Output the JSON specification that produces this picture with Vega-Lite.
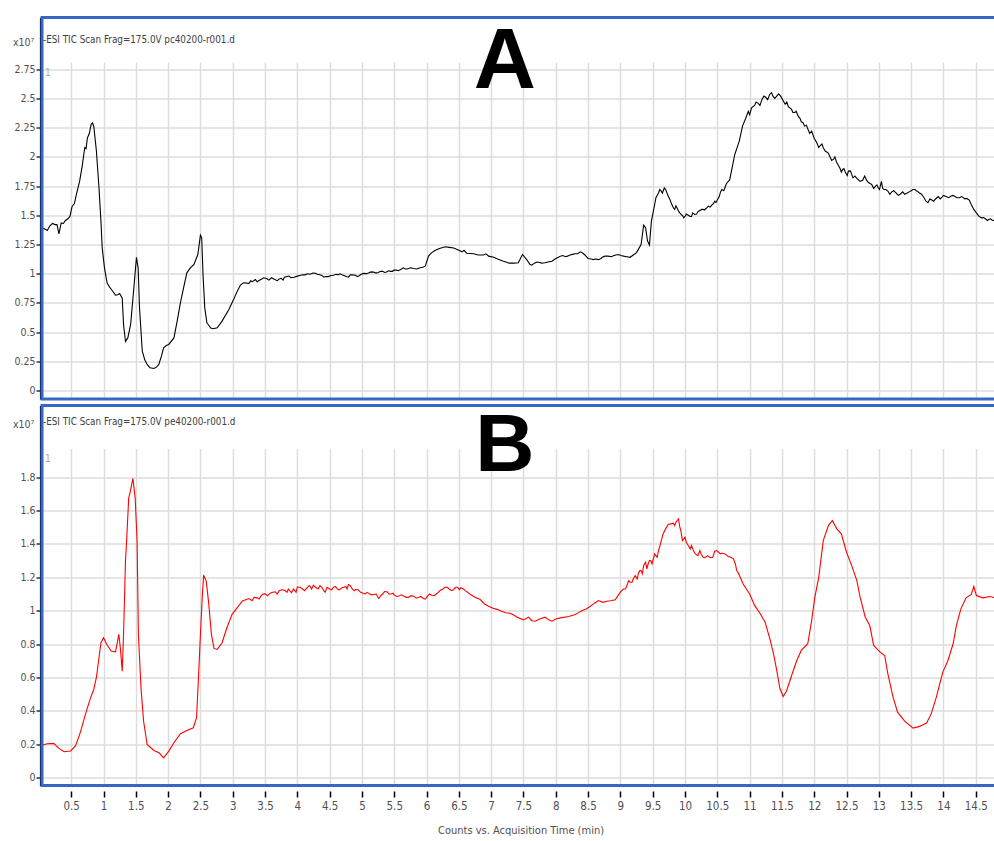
{
  "$schema": "https://vega.github.io/schema/vega-lite/v6.json",
  "autosize": {"type": "pad"},
  "padding": {"left": 12, "top": 15.5, "right": 0, "bottom": 0},
  "background": "white",
  "spacing": 6,
  "bounds": "flush",
  "config": {
    "view": {"stroke": null},
    "font": "DejaVu Sans Condensed, sans-serif",
    "axis": {
      "gridColor": "#dddddd",
      "gridWidth": 1.5,
      "labelColor": "#505050",
      "labelOverlap": false,
      "tickCount": 200,
      "labelFont": "DejaVu Sans Condensed, sans-serif",
      "titleFont": "DejaVu Sans Condensed, sans-serif",
      "titleFontWeight": "normal",
      "titleColor": "#505050"
    }
  },
  "datasets": {
    "a": [
      {"t":0.05,"v":1.39},{"t":0.1,"v":1.38},{"t":0.13,"v":1.37},{"t":0.17,"v":1.41},{"t":0.21,"v":1.43},{"t":0.25,"v":1.42},{"t":0.28,"v":1.42},{"t":0.31,"v":1.34},{"t":0.345,"v":1.435},{"t":0.38,"v":1.43},{"t":0.41,"v":1.455},{"t":0.45,"v":1.47},{"t":0.48,"v":1.49},{"t":0.515,"v":1.578},{"t":0.55,"v":1.6},{"t":0.58,"v":1.678},{"t":0.63,"v":1.79},{"t":0.67,"v":1.92},{"t":0.71,"v":2.08},{"t":0.73,"v":2.07},{"t":0.75,"v":2.16},{"t":0.78,"v":2.2},{"t":0.81,"v":2.28},{"t":0.83,"v":2.29},{"t":0.85,"v":2.26},{"t":0.89,"v":2.05},{"t":0.93,"v":1.735},{"t":0.96,"v":1.45},{"t":0.98,"v":1.22},{"t":1.015,"v":1.05},{"t":1.056,"v":0.92},{"t":1.1,"v":0.88},{"t":1.134,"v":0.856},{"t":1.186,"v":0.816},{"t":1.22,"v":0.82},{"t":1.25,"v":0.83},{"t":1.29,"v":0.79},{"t":1.31,"v":0.565},{"t":1.34,"v":0.42},{"t":1.376,"v":0.45},{"t":1.42,"v":0.565},{"t":1.47,"v":0.88},{"t":1.51,"v":1.14},{"t":1.536,"v":1.05},{"t":1.557,"v":0.71},{"t":1.6,"v":0.337},{"t":1.64,"v":0.26},{"t":1.675,"v":0.223},{"t":1.72,"v":0.195},{"t":1.78,"v":0.188},{"t":1.82,"v":0.2},{"t":1.856,"v":0.223},{"t":1.9,"v":0.3},{"t":1.93,"v":0.365},{"t":1.97,"v":0.385},{"t":2.01,"v":0.394},{"t":2.09,"v":0.45},{"t":2.14,"v":0.594},{"t":2.19,"v":0.75},{"t":2.24,"v":0.88},{"t":2.29,"v":1.007},{"t":2.345,"v":1.05},{"t":2.4,"v":1.079},{"t":2.46,"v":1.164},{"t":2.5,"v":1.33},{"t":2.52,"v":1.307},{"t":2.54,"v":0.994},{"t":2.567,"v":0.708},{"t":2.6,"v":0.58},{"t":2.62,"v":0.565},{"t":2.66,"v":0.535},{"t":2.696,"v":0.528},{"t":2.76,"v":0.537},{"t":2.835,"v":0.594},{"t":2.94,"v":0.694},{"t":3.015,"v":0.78},{"t":3.07,"v":0.85},{"t":3.12,"v":0.902},{"t":3.16,"v":0.92},{"t":3.195,"v":0.922},{"t":3.25,"v":0.915},{"t":3.3,"v":0.93},{"t":3.35,"v":0.95},{"t":3.4,"v":0.94},{"t":3.45,"v":0.955},{"t":3.53,"v":0.956},{"t":3.6,"v":0.965},{"t":3.65,"v":0.95},{"t":3.69,"v":0.94},{"t":3.75,"v":0.96},{"t":3.8,"v":0.97},{"t":3.84,"v":0.976},{"t":3.9,"v":0.965},{"t":4.0,"v":0.979},{"t":4.08,"v":0.99},{"t":4.15,"v":0.999},{"t":4.2,"v":0.995},{"t":4.28,"v":1.004},{"t":4.35,"v":0.99},{"t":4.41,"v":0.97},{"t":4.48,"v":0.975},{"t":4.56,"v":0.987},{"t":4.6,"v":0.995},{"t":4.66,"v":0.999},{"t":4.72,"v":0.985},{"t":4.79,"v":0.97},{"t":4.85,"v":0.99},{"t":4.9,"v":0.987},{"t":4.95,"v":0.98},{"t":5.03,"v":1.002},{"t":5.1,"v":1.005},{"t":5.18,"v":1.013},{"t":5.25,"v":1.01},{"t":5.32,"v":1.02},{"t":5.38,"v":1.015},{"t":5.44,"v":1.02},{"t":5.5,"v":1.03},{"t":5.56,"v":1.025},{"t":5.64,"v":1.05},{"t":5.7,"v":1.04},{"t":5.8,"v":1.044},{"t":5.9,"v":1.05},{"t":5.98,"v":1.064},{"t":6.03,"v":1.15},{"t":6.08,"v":1.18},{"t":6.13,"v":1.198},{"t":6.2,"v":1.215},{"t":6.29,"v":1.23},{"t":6.35,"v":1.225},{"t":6.42,"v":1.22},{"t":6.5,"v":1.2},{"t":6.55,"v":1.187},{"t":6.58,"v":1.2},{"t":6.62,"v":1.175},{"t":6.73,"v":1.17},{"t":6.8,"v":1.16},{"t":6.88,"v":1.16},{"t":6.92,"v":1.17},{"t":6.96,"v":1.15},{"t":7.04,"v":1.14},{"t":7.1,"v":1.125},{"t":7.19,"v":1.107},{"t":7.28,"v":1.09},{"t":7.35,"v":1.09},{"t":7.42,"v":1.093},{"t":7.485,"v":1.164},{"t":7.55,"v":1.12},{"t":7.63,"v":1.073},{"t":7.71,"v":1.1},{"t":7.78,"v":1.09},{"t":7.835,"v":1.093},{"t":7.94,"v":1.107},{"t":8.0,"v":1.13},{"t":8.07,"v":1.15},{"t":8.15,"v":1.145},{"t":8.22,"v":1.16},{"t":8.3,"v":1.17},{"t":8.38,"v":1.187},{"t":8.45,"v":1.16},{"t":8.5,"v":1.13},{"t":8.58,"v":1.12},{"t":8.66,"v":1.12},{"t":8.72,"v":1.14},{"t":8.81,"v":1.15},{"t":8.9,"v":1.155},{"t":8.97,"v":1.164},{"t":9.05,"v":1.15},{"t":9.15,"v":1.14},{"t":9.25,"v":1.18},{"t":9.32,"v":1.25},{"t":9.36,"v":1.415},{"t":9.39,"v":1.393},{"t":9.42,"v":1.28},{"t":9.45,"v":1.244},{"t":9.48,"v":1.45},{"t":9.53,"v":1.59},{"t":9.59,"v":1.69},{"t":9.63,"v":1.71},{"t":9.68,"v":1.735},{"t":9.74,"v":1.664},{"t":9.82,"v":1.564},{"t":9.86,"v":1.58},{"t":9.9,"v":1.535},{"t":9.95,"v":1.5},{"t":9.98,"v":1.478},{"t":10.05,"v":1.5},{"t":10.1,"v":1.49},{"t":10.15,"v":1.507},{"t":10.2,"v":1.53},{"t":10.26,"v":1.55},{"t":10.3,"v":1.545},{"t":10.36,"v":1.578},{"t":10.42,"v":1.59},{"t":10.46,"v":1.62},{"t":10.5,"v":1.63},{"t":10.57,"v":1.72},{"t":10.62,"v":1.74},{"t":10.67,"v":1.79},{"t":10.72,"v":1.88},{"t":10.77,"v":2.02},{"t":10.84,"v":2.135},{"t":10.89,"v":2.263},{"t":10.94,"v":2.33},{"t":10.98,"v":2.39},{"t":11.03,"v":2.42},{"t":11.08,"v":2.443},{"t":11.13,"v":2.46},{"t":11.19,"v":2.49},{"t":11.25,"v":2.51},{"t":11.31,"v":2.534},{"t":11.36,"v":2.52},{"t":11.42,"v":2.52},{"t":11.48,"v":2.52},{"t":11.55,"v":2.45},{"t":11.6,"v":2.43},{"t":11.65,"v":2.406},{"t":11.7,"v":2.38},{"t":11.75,"v":2.35},{"t":11.8,"v":2.3},{"t":11.85,"v":2.263},{"t":11.9,"v":2.24},{"t":11.96,"v":2.22},{"t":12.04,"v":2.12},{"t":12.1,"v":2.1},{"t":12.14,"v":2.078},{"t":12.2,"v":2.04},{"t":12.24,"v":2.006},{"t":12.3,"v":1.98},{"t":12.34,"v":1.963},{"t":12.4,"v":1.9},{"t":12.44,"v":1.892},{"t":12.48,"v":1.87},{"t":12.53,"v":1.878},{"t":12.58,"v":1.85},{"t":12.63,"v":1.835},{"t":12.71,"v":1.79},{"t":12.78,"v":1.835},{"t":12.84,"v":1.78},{"t":12.89,"v":1.764},{"t":12.95,"v":1.75},{"t":12.99,"v":1.735},{"t":13.04,"v":1.79},{"t":13.08,"v":1.72},{"t":13.14,"v":1.707},{"t":13.2,"v":1.7},{"t":13.27,"v":1.69},{"t":13.33,"v":1.68},{"t":13.4,"v":1.68},{"t":13.47,"v":1.7},{"t":13.53,"v":1.72},{"t":13.58,"v":1.71},{"t":13.63,"v":1.69},{"t":13.7,"v":1.65},{"t":13.76,"v":1.607},{"t":13.82,"v":1.63},{"t":13.87,"v":1.635},{"t":13.92,"v":1.66},{"t":13.97,"v":1.65},{"t":14.04,"v":1.66},{"t":14.12,"v":1.664},{"t":14.18,"v":1.66},{"t":14.25,"v":1.65},{"t":14.3,"v":1.655},{"t":14.36,"v":1.644},{"t":14.43,"v":1.592},{"t":14.51,"v":1.52},{"t":14.59,"v":1.478},{"t":14.65,"v":1.47},{"t":14.7,"v":1.464},{"t":14.75,"v":1.46},{"t":14.86,"v":1.455},
      {"t":3.28,"v":0.94},{"t":3.38,"v":0.93},{"t":3.48,"v":0.965},{"t":3.56,"v":0.945},{"t":3.72,"v":0.955},{"t":3.78,"v":0.945},{"t":3.87,"v":0.98},{"t":3.95,"v":0.97},{"t":4.04,"v":0.985},{"t":4.12,"v":0.99},{"t":4.24,"v":1.005},{"t":4.31,"v":0.995},{"t":4.38,"v":0.985},{"t":4.44,"v":0.975},{"t":4.52,"v":0.985},{"t":4.63,"v":0.99},{"t":4.69,"v":0.99},{"t":4.76,"v":0.975},{"t":4.82,"v":0.99},{"t":4.93,"v":0.975},{"t":4.99,"v":0.995},{"t":5.07,"v":1.0},{"t":5.14,"v":1.015},{"t":5.22,"v":1.005},{"t":5.29,"v":1.02},{"t":5.35,"v":1.01},{"t":5.41,"v":1.025},{"t":5.47,"v":1.02},{"t":5.53,"v":1.03},{"t":5.6,"v":1.035},{"t":5.67,"v":1.04},{"t":5.75,"v":1.05},{"t":5.85,"v":1.04},{"t":5.94,"v":1.055},
      {"t":7.23,"v":1.1},{"t":7.6,"v":1.08},{"t":7.67,"v":1.09},{"t":7.75,"v":1.095},{"t":7.88,"v":1.1},{"t":8.04,"v":1.14},{"t":8.11,"v":1.155},{"t":8.18,"v":1.15},{"t":8.26,"v":1.165},{"t":8.34,"v":1.17},{"t":8.42,"v":1.175},{"t":8.55,"v":1.125},{"t":8.62,"v":1.125},{"t":8.7,"v":1.13},{"t":8.76,"v":1.15},{"t":8.86,"v":1.145},{"t":8.93,"v":1.16},{"t":9.01,"v":1.155},{"t":9.1,"v":1.145},{"t":9.2,"v":1.16},
      {"t":9.55,"v":1.65},{"t":9.61,"v":1.72},{"t":9.65,"v":1.69},{"t":9.7,"v":1.72},{"t":9.77,"v":1.63},{"t":9.79,"v":1.6},{"t":9.84,"v":1.55},{"t":9.88,"v":1.56},{"t":9.92,"v":1.52},{"t":9.96,"v":1.5},{"t":10.0,"v":1.49},{"t":10.02,"v":1.51},{"t":10.08,"v":1.49},{"t":10.12,"v":1.52},{"t":10.18,"v":1.51},{"t":10.23,"v":1.54},{"t":10.28,"v":1.55},{"t":10.33,"v":1.56},{"t":10.39,"v":1.57},{"t":10.44,"v":1.6},{"t":10.48,"v":1.61},{"t":10.53,"v":1.66},{"t":10.55,"v":1.7},{"t":10.6,"v":1.71},{"t":10.64,"v":1.77},{"t":10.69,"v":1.8},
      {"t":11.0,"v":2.36},{"t":11.1,"v":2.47},{"t":11.16,"v":2.44},{"t":11.22,"v":2.52},{"t":11.28,"v":2.49},{"t":11.34,"v":2.55},{"t":11.39,"v":2.5},{"t":11.45,"v":2.54},{"t":11.52,"v":2.48},{"t":11.575,"v":2.47},{"t":11.67,"v":2.38},{"t":11.72,"v":2.39},{"t":11.78,"v":2.33},{"t":11.83,"v":2.29},{"t":11.88,"v":2.27},{"t":11.93,"v":2.2},{"t":12.0,"v":2.16},{"t":12.07,"v":2.08},{"t":12.12,"v":2.11},{"t":12.17,"v":2.05},{"t":12.22,"v":2.03},{"t":12.27,"v":1.97},{"t":12.32,"v":2.0},{"t":12.37,"v":1.93},{"t":12.42,"v":1.87},{"t":12.46,"v":1.9},{"t":12.51,"v":1.84},{"t":12.56,"v":1.88},{"t":12.6,"v":1.82},{"t":12.67,"v":1.81},{"t":12.75,"v":1.8},{"t":12.81,"v":1.8},{"t":12.87,"v":1.77},{"t":12.92,"v":1.73},{"t":12.97,"v":1.76},{"t":13.01,"v":1.72},{"t":13.06,"v":1.73},{"t":13.11,"v":1.72},{"t":13.17,"v":1.68},{"t":13.23,"v":1.71},{"t":13.3,"v":1.67},{"t":13.37,"v":1.7},{"t":13.44,"v":1.69},{"t":13.5,"v":1.71},{"t":13.56,"v":1.72},{"t":13.61,"v":1.7},{"t":13.66,"v":1.68},{"t":13.73,"v":1.62},{"t":13.79,"v":1.64},{"t":13.85,"v":1.62},{"t":13.9,"v":1.65},{"t":13.95,"v":1.64},{"t":14.0,"v":1.67},{"t":14.08,"v":1.65},{"t":14.15,"v":1.67},{"t":14.21,"v":1.65},{"t":14.28,"v":1.66},{"t":14.33,"v":1.64},{"t":14.4,"v":1.63},{"t":14.47,"v":1.55},{"t":14.55,"v":1.49},{"t":14.62,"v":1.48},{"t":14.68,"v":1.455},{"t":14.73,"v":1.47},{"t":14.8,"v":1.45}
    ],
    "b": [
      {"t":0.05,"v":0.195},{"t":0.13,"v":0.203},{"t":0.23,"v":0.205},{"t":0.31,"v":0.175},{"t":0.39,"v":0.155},{"t":0.49,"v":0.16},{"t":0.567,"v":0.19},{"t":0.64,"v":0.27},{"t":0.72,"v":0.379},{"t":0.8,"v":0.479},{"t":0.85,"v":0.529},{"t":0.89,"v":0.6},{"t":0.93,"v":0.718},{"t":0.96,"v":0.808},{"t":1.0,"v":0.838},{"t":1.056,"v":0.794},{"t":1.118,"v":0.758},{"t":1.186,"v":0.754},{"t":1.237,"v":0.858},{"t":1.26,"v":0.778},{"t":1.29,"v":0.638},{"t":1.31,"v":0.858},{"t":1.34,"v":1.297},{"t":1.36,"v":1.437},{"t":1.39,"v":1.676},{"t":1.41,"v":1.706},{"t":1.455,"v":1.792},{"t":1.49,"v":1.676},{"t":1.52,"v":1.417},{"t":1.54,"v":0.858},{"t":1.58,"v":0.539},{"t":1.62,"v":0.339},{"t":1.675,"v":0.199},{"t":1.78,"v":0.163},{"t":1.86,"v":0.149},{"t":1.93,"v":0.119},{"t":2.01,"v":0.159},{"t":2.09,"v":0.209},{"t":2.19,"v":0.263},{"t":2.29,"v":0.283},{"t":2.39,"v":0.299},{"t":2.44,"v":0.359},{"t":2.47,"v":0.6},{"t":2.5,"v":0.858},{"t":2.53,"v":1.097},{"t":2.55,"v":1.213},{"t":2.59,"v":1.177},{"t":2.63,"v":1.038},{"t":2.67,"v":0.858},{"t":2.71,"v":0.774},{"t":2.76,"v":0.768},{"t":2.835,"v":0.808},{"t":2.91,"v":0.898},{"t":2.99,"v":0.978},{"t":3.07,"v":1.018},{"t":3.15,"v":1.058},{"t":3.25,"v":1.073},{"t":3.3,"v":1.06},{"t":3.38,"v":1.077},{"t":3.44,"v":1.09},{"t":3.5,"v":1.101},{"t":3.58,"v":1.105},{"t":3.66,"v":1.113},{"t":3.72,"v":1.12},{"t":3.81,"v":1.121},{"t":3.86,"v":1.13},{"t":3.91,"v":1.107},{"t":3.96,"v":1.12},{"t":4.0,"v":1.141},{"t":4.08,"v":1.13},{"t":4.15,"v":1.137},{"t":4.2,"v":1.145},{"t":4.25,"v":1.153},{"t":4.32,"v":1.13},{"t":4.38,"v":1.14},{"t":4.43,"v":1.111},{"t":4.5,"v":1.13},{"t":4.56,"v":1.141},{"t":4.62,"v":1.13},{"t":4.69,"v":1.137},{"t":4.75,"v":1.145},{"t":4.79,"v":1.157},{"t":4.85,"v":1.13},{"t":4.9,"v":1.127},{"t":4.98,"v":1.11},{"t":5.05,"v":1.101},{"t":5.12,"v":1.1},{"t":5.18,"v":1.097},{"t":5.26,"v":1.073},{"t":5.32,"v":1.1},{"t":5.39,"v":1.113},{"t":5.45,"v":1.1},{"t":5.5,"v":1.093},{"t":5.58,"v":1.09},{"t":5.65,"v":1.087},{"t":5.72,"v":1.08},{"t":5.8,"v":1.087},{"t":5.88,"v":1.08},{"t":5.95,"v":1.073},{"t":6.02,"v":1.09},{"t":6.08,"v":1.093},{"t":6.15,"v":1.1},{"t":6.21,"v":1.121},{"t":6.29,"v":1.141},{"t":6.35,"v":1.13},{"t":6.42,"v":1.127},{"t":6.48,"v":1.14},{"t":6.53,"v":1.137},{"t":6.6,"v":1.12},{"t":6.68,"v":1.097},{"t":6.75,"v":1.08},{"t":6.83,"v":1.067},{"t":6.9,"v":1.04},{"t":6.96,"v":1.027},{"t":7.03,"v":1.015},{"t":7.09,"v":1.008},{"t":7.22,"v":0.988},{"t":7.29,"v":0.985},{"t":7.35,"v":0.974},{"t":7.4,"v":0.961},{"t":7.5,"v":0.945},{"t":7.58,"v":0.961},{"t":7.63,"v":0.94},{"t":7.68,"v":0.937},{"t":7.75,"v":0.95},{"t":7.835,"v":0.961},{"t":7.89,"v":0.945},{"t":7.94,"v":0.937},{"t":8.0,"v":0.95},{"t":8.07,"v":0.957},{"t":8.2,"v":0.965},{"t":8.3,"v":0.977},{"t":8.36,"v":0.99},{"t":8.41,"v":1.001},{"t":8.47,"v":1.01},{"t":8.53,"v":1.025},{"t":8.6,"v":1.045},{"t":8.66,"v":1.061},{"t":8.73,"v":1.05},{"t":8.79,"v":1.057},{"t":8.85,"v":1.06},{"t":8.92,"v":1.065},{"t":9.0,"v":1.111},{"t":9.05,"v":1.13},{"t":9.1,"v":1.151},{"t":9.15,"v":1.17},{"t":9.2,"v":1.191},{"t":9.28,"v":1.225},{"t":9.32,"v":1.24},{"t":9.36,"v":1.271},{"t":9.43,"v":1.281},{"t":9.47,"v":1.3},{"t":9.51,"v":1.311},{"t":9.55,"v":1.33},{"t":9.59,"v":1.36},{"t":9.66,"v":1.46},{"t":9.74,"v":1.516},{"t":9.82,"v":1.524},{"t":9.86,"v":1.53},{"t":9.9,"v":1.55},{"t":9.94,"v":1.47},{"t":10.0,"v":1.44},{"t":10.05,"v":1.39},{"t":10.13,"v":1.36},{"t":10.2,"v":1.33},{"t":10.25,"v":1.34},{"t":10.31,"v":1.317},{"t":10.39,"v":1.317},{"t":10.46,"v":1.356},{"t":10.52,"v":1.35},{"t":10.57,"v":1.345},{"t":10.67,"v":1.325},{"t":10.75,"v":1.311},{"t":10.82,"v":1.23},{"t":10.9,"v":1.16},{"t":11.0,"v":1.1},{"t":11.08,"v":1.03},{"t":11.16,"v":0.985},{"t":11.24,"v":0.931},{"t":11.32,"v":0.822},{"t":11.37,"v":0.742},{"t":11.42,"v":0.642},{"t":11.47,"v":0.532},{"t":11.52,"v":0.486},{"t":11.57,"v":0.518},{"t":11.65,"v":0.612},{"t":11.73,"v":0.702},{"t":11.8,"v":0.762},{"t":11.9,"v":0.802},{"t":11.96,"v":0.941},{"t":12.01,"v":1.081},{"t":12.07,"v":1.2},{"t":12.14,"v":1.42},{"t":12.22,"v":1.51},{"t":12.28,"v":1.54},{"t":12.35,"v":1.49},{"t":12.42,"v":1.46},{"t":12.5,"v":1.35},{"t":12.58,"v":1.27},{"t":12.66,"v":1.18},{"t":12.71,"v":1.081},{"t":12.79,"v":0.961},{"t":12.86,"v":0.911},{"t":12.92,"v":0.792},{"t":13.02,"v":0.752},{"t":13.09,"v":0.732},{"t":13.14,"v":0.622},{"t":13.22,"v":0.482},{"t":13.29,"v":0.392},{"t":13.4,"v":0.339},{"t":13.53,"v":0.297},{"t":13.63,"v":0.307},{"t":13.74,"v":0.327},{"t":13.81,"v":0.382},{"t":13.89,"v":0.482},{"t":13.99,"v":0.632},{"t":14.07,"v":0.702},{"t":14.15,"v":0.802},{"t":14.2,"v":0.911},{"t":14.27,"v":1.011},{"t":14.35,"v":1.077},{"t":14.43,"v":1.097},{"t":14.47,"v":1.145},{"t":14.51,"v":1.091},{"t":14.61,"v":1.077},{"t":14.72,"v":1.085},{"t":14.86,"v":1.071},
      {"t":3.33,"v":1.08},{"t":3.41,"v":1.07},{"t":3.47,"v":1.1},{"t":3.54,"v":1.09},{"t":3.62,"v":1.11},{"t":3.69,"v":1.1},{"t":3.76,"v":1.125},{"t":3.84,"v":1.11},{"t":3.94,"v":1.13},{"t":3.98,"v":1.11},{"t":4.04,"v":1.14},{"t":4.11,"v":1.12},{"t":4.18,"v":1.15},{"t":4.22,"v":1.13},{"t":4.28,"v":1.14},{"t":4.35,"v":1.15},{"t":4.41,"v":1.12},{"t":4.46,"v":1.14},{"t":4.53,"v":1.125},{"t":4.59,"v":1.145},{"t":4.65,"v":1.125},{"t":4.72,"v":1.14},{"t":4.77,"v":1.13},{"t":4.82,"v":1.15},{"t":4.88,"v":1.12},{"t":4.94,"v":1.125},{"t":5.02,"v":1.105},{"t":5.08,"v":1.11},{"t":5.15,"v":1.095},{"t":5.22,"v":1.1},{"t":5.29,"v":1.09},{"t":5.35,"v":1.115},{"t":5.42,"v":1.1},{"t":5.48,"v":1.105},{"t":5.54,"v":1.085},{"t":5.61,"v":1.095},{"t":5.69,"v":1.08},{"t":5.76,"v":1.09},{"t":5.84,"v":1.075},{"t":5.91,"v":1.085},{"t":5.98,"v":1.07},{"t":6.05,"v":1.1},{"t":6.12,"v":1.09},{"t":6.18,"v":1.11},{"t":6.25,"v":1.13},{"t":6.32,"v":1.14},{"t":6.39,"v":1.12},{"t":6.45,"v":1.14},{"t":6.51,"v":1.125},{"t":6.57,"v":1.13},
      {"t":9.02,"v":1.12},{"t":9.08,"v":1.13},{"t":9.13,"v":1.18},{"t":9.18,"v":1.17},{"t":9.23,"v":1.21},{"t":9.26,"v":1.19},{"t":9.3,"v":1.24},{"t":9.34,"v":1.22},{"t":9.39,"v":1.29},{"t":9.41,"v":1.25},{"t":9.45,"v":1.3},{"t":9.49,"v":1.28},{"t":9.53,"v":1.34},{"t":9.57,"v":1.32},{"t":9.62,"v":1.4},{"t":9.7,"v":1.49},{"t":9.78,"v":1.52},{"t":9.84,"v":1.51},{"t":9.88,"v":1.54},{"t":9.92,"v":1.5},{"t":9.96,"v":1.42},{"t":10.02,"v":1.41},{"t":10.08,"v":1.37},{"t":10.1,"v":1.39},{"t":10.16,"v":1.34},{"t":10.23,"v":1.36},{"t":10.28,"v":1.32},{"t":10.35,"v":1.33},{"t":10.43,"v":1.32},{"t":10.49,"v":1.36},{"t":10.55,"v":1.34},{"t":10.62,"v":1.34},{"t":10.71,"v":1.32},{"t":10.78,"v":1.28},{"t":10.8,"v":1.24}
    ]
  },
  "vconcat": [
    {
      "width": 957,
      "height": 381.5,
      "layer": [
        {
          "data": {"values": [{}]},
          "mark": {"type": "rect", "color": "white"},
          "encoding": {
            "y": {"datum": 2.808, "type": "quantitative"},
            "y2": {"datum": 3.193}
          }
        },
        {
          "data": {"name": "a"},
          "mark": {"type": "line", "color": "black", "strokeWidth": 1.1, "clip": true},
          "encoding": {
            "x": {
              "field": "t", "type": "quantitative",
              "scale": {"domain": [0.048, 14.86], "nice": false, "zero": false},
              "axis": {"values": [0.5,1,1.5,2,2.5,3,3.5,4,4.5,5,5.5,6,6.5,7,7.5,8,8.5,9,9.5,10,10.5,11,11.5,12,12.5,13,13.5,14,14.5], "tickCount": 200, "labels": false, "ticks": false, "domain": false, "title": null, "grid": true}
            },
            "y": {
              "field": "v", "type": "quantitative",
              "scale": {"domain": [-0.073, 3.193], "nice": false, "zero": false},
              "axis": {
                "values": [0,0.25,0.5,0.75,1,1.25,1.5,1.75,2,2.25,2.5,2.75], "tickCount": 200,
                "format": "~g", "grid": true, "domain": true, "domainColor": "black", "domainWidth": 1.2,
                "tickColor": "black", "tickSize": 4, "tickWidth": 1.2, "offset": 2, "labelPadding": 1, "labelFontSize": 10.5,
                "title": "x10⁷", "titleAngle": 0, "titleAlign": "left", "titleBaseline": "middle", "titleX": -27.5, "titleY": 25, "titleFontSize": 10.5
              }
            }
          }
        },
        {
          "data": {"values": [{"label": "-ESI TIC Scan Frag=175.0V pc40200-r001.d"}]},
          "mark": {"type": "text", "align": "left", "baseline": "middle", "dx": 1, "fontSize": 9.8, "color": "#404040"},
          "encoding": {"x": {"datum": 0.048}, "y": {"datum": 3.0}, "text": {"field": "label"}}
        },
        {
          "data": {"values": [{"label": "1"}]},
          "mark": {"type": "text", "align": "left", "baseline": "middle", "dx": 3, "fontSize": 10, "color": "#aaaaaa"},
          "encoding": {"x": {"datum": 0.048}, "y": {"datum": 2.72}, "text": {"field": "label"}}
        },
        {
          "data": {"values": [{"label": "A"}]},
          "mark": {"type": "text", "align": "center", "baseline": "alphabetic", "fontSize": 86, "fontWeight": "bold", "font": "Liberation Sans, Arial, sans-serif", "color": "black"},
          "encoding": {"x": {"datum": 7.21}, "y": {"datum": 2.586}, "text": {"field": "label"}}
        },
        {
          "data": {"values": [{}]},
          "mark": {"type": "rect", "fillOpacity": 0, "stroke": "#3467c8", "strokeWidth": 3},
          "encoding": {}
        }
      ]
    },
    {
      "width": 957,
      "height": 380,
      "layer": [
        {
          "data": {"values": [{}]},
          "mark": {"type": "rect", "color": "white"},
          "encoding": {
            "y": {"datum": 1.968, "type": "quantitative"},
            "y2": {"datum": 2.229}
          }
        },
        {
          "data": {"name": "b"},
          "mark": {"type": "line", "color": "#ff0000", "strokeWidth": 1.1, "clip": true},
          "encoding": {
            "x": {
              "field": "t", "type": "quantitative",
              "scale": {"domain": [0.048, 14.86], "nice": false, "zero": false},
              "axis": {
                "values": [0.5,1,1.5,2,2.5,3,3.5,4,4.5,5,5.5,6,6.5,7,7.5,8,8.5,9,9.5,10,10.5,11,11.5,12,12.5,13,13.5,14,14.5], "tickCount": 200,
                "format": "~g", "grid": true, "domain": false, "tickColor": "black", "tickSize": 6, "tickWidth": 1.5, "offset": 5.5,
                "labelPadding": 3, "labelFontSize": 11.5,
                "title": "Counts vs. Acquisition Time (min)", "titleFontSize": 11, "titlePadding": 13
              }
            },
            "y": {
              "field": "v", "type": "quantitative",
              "scale": {"domain": [-0.047, 2.229], "nice": false, "zero": false},
              "axis": {
                "values": [0,0.2,0.4,0.6,0.8,1,1.2,1.4,1.6,1.8], "tickCount": 200,
                "format": "~g", "grid": true, "domain": true, "domainColor": "black", "domainWidth": 1.2,
                "tickColor": "black", "tickSize": 4, "tickWidth": 1.2, "offset": 2, "labelPadding": 1, "labelFontSize": 10.5,
                "title": "x10⁷", "titleAngle": 0, "titleAlign": "left", "titleBaseline": "middle", "titleX": -27.5, "titleY": 18.5, "titleFontSize": 10.5
              }
            }
          }
        },
        {
          "data": {"values": [{"label": "-ESI TIC Scan Frag=175.0V pe40200-r001.d"}]},
          "mark": {"type": "text", "align": "left", "baseline": "middle", "dx": 1, "fontSize": 9.8, "color": "#404040"},
          "encoding": {"x": {"datum": 0.048}, "y": {"datum": 2.13}, "text": {"field": "label"}}
        },
        {
          "data": {"values": [{"label": "1"}]},
          "mark": {"type": "text", "align": "left", "baseline": "middle", "dx": 3, "fontSize": 10, "color": "#aaaaaa"},
          "encoding": {"x": {"datum": 0.048}, "y": {"datum": 1.908}, "text": {"field": "label"}}
        },
        {
          "data": {"values": [{"label": "B"}]},
          "mark": {"type": "text", "align": "center", "baseline": "alphabetic", "fontSize": 82, "fontWeight": "bold", "font": "Liberation Sans, Arial, sans-serif", "color": "black"},
          "encoding": {"x": {"datum": 7.21}, "y": {"datum": 1.837}, "text": {"field": "label"}}
        },
        {
          "data": {"values": [{}]},
          "mark": {"type": "rect", "fillOpacity": 0, "stroke": "#3467c8", "strokeWidth": 3},
          "encoding": {}
        }
      ]
    }
  ]
}
